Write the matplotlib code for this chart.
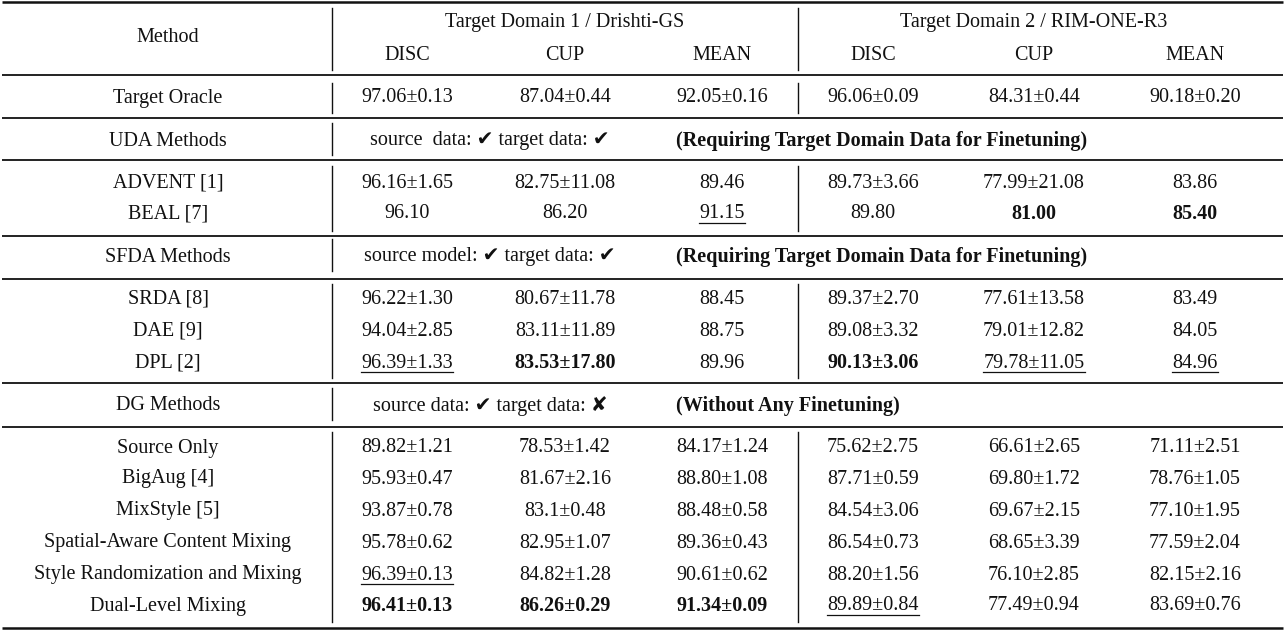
import matplotlib
matplotlib.use("Agg")
import matplotlib.pyplot as plt

FONT = ["Liberation Serif", "DejaVu Sans"]
FS = 14.5
DY = 2

groups = ["Target Domain 1 / Drishti-GS", "Target Domain 2 / RIM-ONE-R3"]
metrics = ["DISC", "CUP", "MEAN", "DISC", "CUP", "MEAN"]

oracle = ["Target Oracle", "97.06±0.13", "87.04±0.44", "92.05±0.16", "96.06±0.09", "84.31±0.44", "90.18±0.20"]

uda_header = ["UDA Methods", "source  data: ✔ target data: ✔", "(Requiring Target Domain Data for Finetuning)"]
uda_rows = [
    ["ADVENT [1]", "96.16±1.65", "82.75±11.08", "89.46", "89.73±3.66", "77.99±21.08", "83.86"],
    ["BEAL [7]", "96.10", "86.20", "91.15", "89.80", "81.00", "85.40"],
]
uda_style = [["", "", "", "", "", "", ""], ["", "", "", "u", "", "b", "b"]]

sfda_header = ["SFDA Methods", "source model: ✔ target data: ✔", "(Requiring Target Domain Data for Finetuning)"]
sfda_rows = [
    ["SRDA [8]", "96.22±1.30", "80.67±11.78", "88.45", "89.37±2.70", "77.61±13.58", "83.49"],
    ["DAE [9]", "94.04±2.85", "83.11±11.89", "88.75", "89.08±3.32", "79.01±12.82", "84.05"],
    ["DPL [2]", "96.39±1.33", "83.53±17.80", "89.96", "90.13±3.06", "79.78±11.05", "84.96"],
]
sfda_style = [[""] * 7, [""] * 7, ["", "u", "b", "", "b", "u", "u"]]

dg_header = ["DG Methods", "source data: ✔ target data: ✘", "(Without Any Finetuning)"]
dg_rows = [
    ["Source Only", "89.82±1.21", "78.53±1.42", "84.17±1.24", "75.62±2.75", "66.61±2.65", "71.11±2.51"],
    ["BigAug [4]", "95.93±0.47", "81.67±2.16", "88.80±1.08", "87.71±0.59", "69.80±1.72", "78.76±1.05"],
    ["MixStyle [5]", "93.87±0.78", "83.1±0.48", "88.48±0.58", "84.54±3.06", "69.67±2.15", "77.10±1.95"],
    ["Spatial-Aware Content Mixing", "95.78±0.62", "82.95±1.07", "89.36±0.43", "86.54±0.73", "68.65±3.39", "77.59±2.04"],
    ["Style Randomization and Mixing", "96.39±0.13", "84.82±1.28", "90.61±0.62", "88.20±1.56", "76.10±2.85", "82.15±2.16"],
    ["Dual-Level Mixing", "96.41±0.13", "86.26±0.29", "91.34±0.09", "89.89±0.84", "77.49±0.94", "83.69±0.76"],
]
dg_style = [[""] * 7, [""] * 7, [""] * 7, [""] * 7,
            ["", "u", "", "", "", "", ""], ["", "b", "b", "b", "u", "", ""]]

W, H = 1285, 633
fig = plt.figure(figsize=(W / 100, H / 100), dpi=100)
ax = fig.add_axes([0, 0, 1, 1])
ax.set_xlim(0, W)
ax.set_ylim(H, 0)
ax.axis("off")

colx = [168, 407, 565, 722, 873, 1034, 1195]
texts_u = []

def put(x, y, s, style=""):
    t = ax.text(x, y + DY, s, ha="center", va="center", fontsize=FS, family=FONT,
                fontweight="bold" if style == "b" else "normal", color="#111")
    if style == "u":
        texts_u.append(t)
    return t

def hline(y, lw=1.3):
    ax.plot([2, W - 2], [y, y], color="#111", lw=lw, solid_capstyle="butt")

def vline(x, y0, y1):
    ax.plot([x, x], [y0, y1], color="#111", lw=1.0)

put(colx[0], 36, "Method")
put(565, 21, groups[0])
put(1034, 21, groups[1])
for x, m in zip(colx[1:], metrics):
    put(x, 53, m)
hline(2, 1.8)
vline(332, 8, 70); vline(798, 8, 70)
hline(75)

for x, s in zip(colx, oracle):
    put(x, 96, s)
vline(332, 83, 113); vline(798, 83, 113)
hline(118)

def block(header, rows, styles, yh, y0s, ytop, ybot):
    put(colx[0], yh, header[0])
    ax.text(490, yh + DY, header[1], ha="center", va="center", fontsize=FS, family=FONT, color="#111")
    ax.text(676, yh + DY, header[2], ha="left", va="center", fontsize=FS, family=FONT,
            fontweight="bold", color="#111")
    vline(332, yh - 16, yh + 16)
    for r, st, y in zip(rows, styles, y0s):
        for x, s, sy in zip(colx, r, st):
            put(x, y, s, sy)
    vline(332, ytop, ybot); vline(798, ytop, ybot)

block(uda_header, uda_rows, uda_style, 139, [181, 212], 166, 231)
hline(160); hline(236)
block(sfda_header, sfda_rows, sfda_style, 255, [297, 329, 361], 284, 378)
hline(279); hline(383)
block(dg_header, dg_rows, dg_style, 404, [446, 477, 509, 541, 573, 604], 432, 622)
hline(427); hline(628, 1.8)

fig.canvas.draw()
r = fig.canvas.get_renderer()
inv = ax.transData.inverted()
for t in texts_u:
    bb = t.get_window_extent(r)
    (x0, y0), (x1, y1) = inv.transform([(bb.x0, bb.y0), (bb.x1, bb.y1)])
    ax.plot([x0, x1], [y0 - 1, y0 - 1], color="#111", lw=0.9)

fig.savefig("out.png", dpi=100)
